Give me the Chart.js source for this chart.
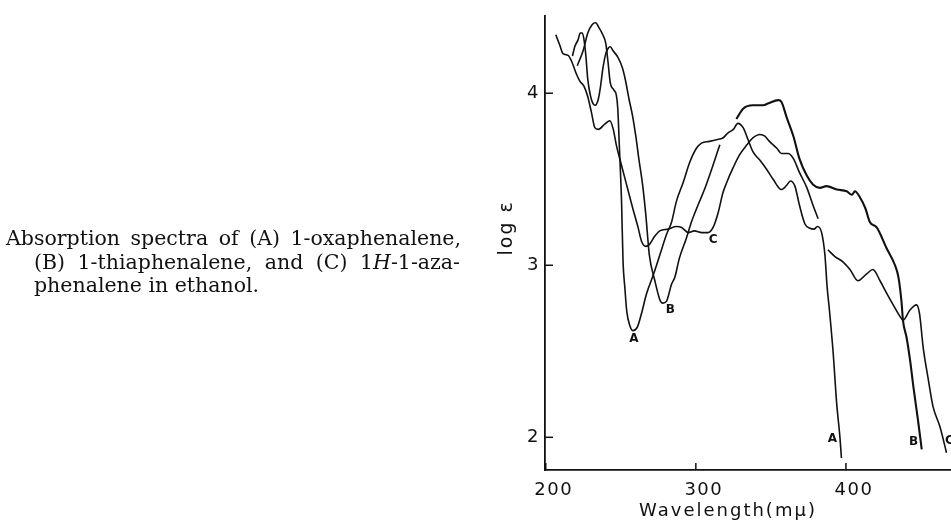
<!DOCTYPE html>
<html><head><meta charset="utf-8">
<script src="https://cdn.jsdelivr.net/npm/chart.js@4.4.0/dist/chart.umd.min.js"></script>
<style>
html,body{margin:0;padding:0;background:#fff;}
#wrap{position:relative;width:951px;height:521px;overflow:hidden;background:#fff;}
#c{position:absolute;left:0;top:0;}
.cap{position:absolute;font-family:"DejaVu Serif",serif;font-size:20.5px;line-height:22px;color:#111;white-space:nowrap;}
.j{text-align:justify;text-align-last:justify;}
</style></head><body>
<div id="wrap">
<canvas id="c" width="951" height="521"></canvas>
<div class="cap j" style="left:6px;top:227px;width:455px;">Absorption spectra of (A) 1-oxaphenalene,</div>
<div class="cap j" style="left:34px;top:251px;width:426px;">(B) 1-thiaphenalene, and (C) 1<i>H</i>-1-aza-</div>
<div class="cap" style="left:34px;top:274px;">phenalene in ethanol.</div>
</div>
<script>
// ---- data (wavelength in mμ, log ε) ----
const aWave = [221,225,228,231,233.3,235.5,238,240,241.5,243,245.3,247,248,249,250.5,251.5,252.7,254,256,258,261,263.8,267,271.5,276,280.5,283.8,287,291.5,296,300.4,303.8,309,313.8,318,321.5,325,328,331.5,335,338,342.7,347,351.5,357,360.5,363,366,369,372.7,376,378.7,381,383.8,386,387.5,389,391.5,393.8,396,397];
const aLog  = [4.16,4.25,4.35,4.40,4.41,4.38,4.34,4.29,4.18,4.06,4.02,3.99,3.91,3.70,3.37,3.02,2.87,2.73,2.65,2.62,2.64,2.72,2.83,2.94,3.06,3.18,3.25,3.37,3.48,3.60,3.68,3.71,3.72,3.73,3.74,3.77,3.79,3.825,3.80,3.725,3.66,3.61,3.56,3.50,3.44,3.465,3.49,3.46,3.35,3.24,3.215,3.21,3.225,3.19,3.06,2.87,2.74,2.49,2.20,2.00,1.88];

const bWave1 = [217.8,219.3,221.5,223,224.4,225.5,226.7,228,229.8,231.5,233,235,236.5,238,240,241.5,243,245,248,251,253,255.5,257.8,260,262,264.5,266.7,269,272.7,276,278,280.4,283.8,286,289,293.8,297,307,316];
const bLog1  = [4.216,4.27,4.31,4.35,4.35,4.31,4.22,4.08,3.985,3.94,3.93,3.965,4.04,4.14,4.23,4.26,4.27,4.245,4.21,4.15,4.08,3.965,3.87,3.75,3.62,3.47,3.29,3.06,2.91,2.80,2.78,2.79,2.89,2.93,3.04,3.16,3.25,3.47,3.70];
const bWave2 = [327,331.5,338,345,348,355,357,360.5,365,369,374,378,382.7,387,394,400.5,404,406,409,413,416,420.5,427,432.7,435,437,438,440.4,442.7,445,448,450.5];
const bLog2  = [3.85,3.91,3.93,3.93,3.94,3.96,3.95,3.86,3.75,3.62,3.52,3.47,3.45,3.46,3.44,3.43,3.41,3.43,3.40,3.33,3.25,3.22,3.10,3.00,2.93,2.79,2.68,2.58,2.45,2.29,2.10,1.93];

const cWave1 = [206.7,209.3,211.5,214.9,217,220.5,222.7,225.5,228,230.4,232.7,235,239.3,242.7,245,247,250.5,253.8,258,261.5,263.8,266.7,269,272.7,276,281.5,287,290.5,295,299,304,308,311.5,315,318,320.5,325,329,334,338,342.7,346,349,354,357,361.5,365,369,374,378,381.5];
const cLog1  = [4.34,4.28,4.23,4.22,4.19,4.11,4.07,4.04,3.98,3.89,3.80,3.79,3.82,3.84,3.79,3.70,3.58,3.47,3.33,3.22,3.14,3.11,3.12,3.17,3.20,3.21,3.225,3.22,3.19,3.20,3.19,3.19,3.22,3.31,3.42,3.48,3.57,3.64,3.70,3.74,3.76,3.75,3.72,3.68,3.65,3.65,3.62,3.54,3.45,3.35,3.27];
const cWave2 = [388,392.7,398,402.7,408,413.8,418,422.7,427,431.5,437,438,442.7,447,449,451.5,455,458,462.7,467];
const cLog2  = [3.09,3.05,3.02,2.975,2.91,2.95,2.975,2.91,2.84,2.77,2.69,2.68,2.74,2.77,2.72,2.52,2.33,2.18,2.06,1.91];

const curveLabels = ['A','B','C','A','B','C'];
const curveLabelWave = [258.7,283,311.5,391,445,469];
const curveLabelLog  = [2.57,2.74,3.15,1.99,1.975,1.98];

const xTickValues = [200,300,400];
const yTickValues = [2,3,4];
const xTitle = 'Wavelength(mμ)';
const yTitle = 'log ε';

const pts = (xs, ys) => xs.map((v,i)=>({x:v, y:ys[i]}));
const ds = (xs, ys, w) => ({data: pts(xs,ys), borderColor:'#111', borderWidth:w, pointRadius:0, fill:false, cubicInterpolationMode:'monotone'});

const deco = {
  id:'deco',
  beforeDraw(chart){ chart.ctx.letterSpacing = '1.5px'; },
  beforeDatasetsDraw(chart){ chart.ctx.letterSpacing = '0px'; },
  afterDraw(chart){
    const {ctx, chartArea, scales:{x, y}} = chart;
    ctx.save();
    ctx.strokeStyle = '#111'; ctx.lineWidth = 1.5;
    xTickValues.forEach(v=>{ const p = x.getPixelForValue(v); ctx.beginPath(); ctx.moveTo(p, chartArea.bottom); ctx.lineTo(p, chartArea.bottom-7); ctx.stroke(); });
    yTickValues.forEach(v=>{ const p = y.getPixelForValue(v); ctx.beginPath(); ctx.moveTo(chartArea.left, p); ctx.lineTo(chartArea.left+8, p); ctx.stroke(); });
    ctx.fillStyle = '#111';
    ctx.font = 'bold 12px "DejaVu Sans"';
    ctx.textAlign = 'center'; ctx.textBaseline = 'middle';
    curveLabels.forEach((t,i)=>{ ctx.fillText(t, x.getPixelForValue(curveLabelWave[i]), y.getPixelForValue(curveLabelLog[i])); });
    // axis titles
    ctx.font = '18px "DejaVu Sans"';
    ctx.letterSpacing = '2px';
    ctx.textAlign = 'center'; ctx.textBaseline = 'alphabetic';
    ctx.fillText(xTitle, chartArea.left + 183, chartArea.bottom + 46);
    ctx.save();
    ctx.letterSpacing = '2px';
    ctx.font = '19px "DejaVu Sans"';
    ctx.translate(chartArea.left - 33, chartArea.top + 212);
    ctx.rotate(-Math.PI/2);
    ctx.fillText(yTitle, 0, 0);
    ctx.restore();
    ctx.restore();
  }
};

new Chart(document.getElementById('c'), {
  type:'line',
  data:{ datasets:[
    ds(aWave,aLog,1.6), ds(bWave1,bLog1,1.6), ds(bWave2,bLog2,2.1), ds(cWave1,cLog1,1.6), ds(cWave2,cLog2,1.6)
  ]},
  options:{
    responsive:false, animation:false, devicePixelRatio:1,
    layout:{padding:{left:495, top:13, right:0, bottom:0}},
    plugins:{legend:{display:false}, tooltip:{enabled:false}},
    scales:{
      x:{type:'linear', min:199.5, max:470,
         grid:{display:false, drawTicks:false}, border:{display:true, color:'#111', width:1.8},
         afterBuildTicks:s=>{ s.ticks = xTickValues.map(v=>({value:v})); },
         afterFit:s=>{ s.height = 51; },
         ticks:{color:'#111', font:{family:'"DejaVu Sans"', size:18}, padding:10, labelOffset:8, maxRotation:0, callback:v=>String(v)}},
      y:{type:'linear', min:1.81, max:4.45,
         grid:{display:false, drawTicks:false}, border:{display:true, color:'#111', width:1.8},
         afterBuildTicks:s=>{ s.ticks = yTickValues.map(v=>({value:v})); },
         afterFit:s=>{ s.width = 50; },
         ticks:{color:'#111', font:{family:'"DejaVu Sans"', size:18}, padding:5, callback:v=>String(v)}}
    }
  },
  plugins:[deco]
});
</script>
</body></html>
